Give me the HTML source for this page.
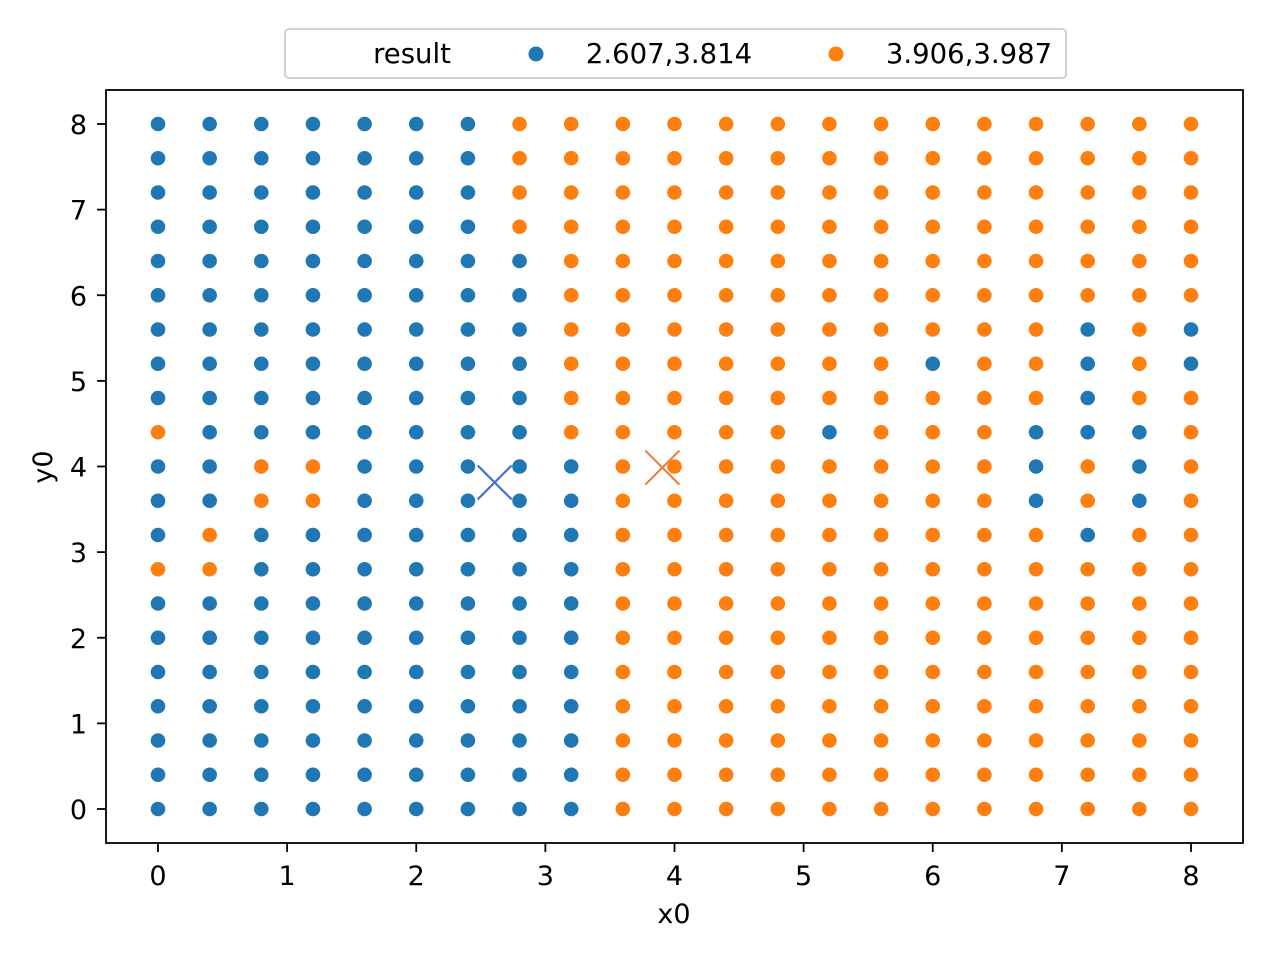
<!DOCTYPE html>
<html><head><meta charset="utf-8"><style>
body{margin:0;background:#fff}
svg text{font-family:"DejaVu Sans","Liberation Sans",sans-serif;fill:#000}
</style></head><body>
<svg id="chart" width="1280" height="960" xmlns="http://www.w3.org/2000/svg">
<rect x="0" y="0" width="1280" height="960" fill="#fff"/>
<g id="marks"></g>
<rect x="106" y="90" width="1137" height="753" fill="none" stroke="#000" stroke-width="1.8"/>
<g id="axes"></g>
<text x="674" y="923" font-size="27" text-anchor="middle">x0</text>
<text x="0" y="0" font-size="27" text-anchor="middle" transform="translate(52,467) rotate(-90)">y0</text>
<g>
<rect x="285" y="29" width="781" height="49" rx="4" fill="#fff" stroke="#ccc" stroke-width="1.8"/>
<text x="412" y="63" font-size="27.5" text-anchor="middle">result</text>
<circle cx="536" cy="54" r="7.5" fill="#1f77b4"/>
<text x="669" y="63" font-size="27.5" text-anchor="middle">2.607,3.814</text>
<circle cx="836" cy="54" r="7.5" fill="#ff7f0e"/>
<text x="969" y="63" font-size="27.5" text-anchor="middle">3.906,3.987</text>
</g>
</svg>
<script>
const xValues=[0,0.4,0.8,1.2,1.6,2,2.4,2.8,3.2,3.6,4,4.4,4.8,5.2,5.6,6,6.4,6.8,7.2,7.6,8];
const yValues=[8,7.6,7.2,6.8,6.4,6,5.6,5.2,4.8,4.4,4,3.6,3.2,2.8,2.4,2,1.6,1.2,0.8,0.4,0];
const clusterRows=[
"bbbbbbboooooooooooooo","bbbbbbboooooooooooooo","bbbbbbboooooooooooooo","bbbbbbboooooooooooooo",
"bbbbbbbbooooooooooooo","bbbbbbbbooooooooooooo",
"bbbbbbbboooooooooobob","bbbbbbbboooooooboobob","bbbbbbbbooooooooooboo",
"obbbbbbbooooobooobbbo","bboobbbbboooooooobobo","bboobbbbboooooooobobo",
"bobbbbbbbooooooooobooo".slice(0,21),"oobbbbbbboooooooooooo",
"bbbbbbbbboooooooooooo","bbbbbbbbboooooooooooo","bbbbbbbbboooooooooooo","bbbbbbbbboooooooooooo",
"bbbbbbbbboooooooooooo","bbbbbbbbboooooooooooo","bbbbbbbbboooooooooooo"];
const centroidX=[2.607,3.906];
const centroidY=[3.814,3.987];
const xTicks=[0,1,2,3,4,5,6,7,8];
const yTicks=[0,1,2,3,4,5,6,7,8];
const colors={b:"#1f77b4",o:"#ff7f0e"};
const crossColors=["#4a72d0","#ee8040"];
const sx=v=>158+v*(1191-158)/8;
const sy=v=>809-v*(809-124)/8;
const NS="http://www.w3.org/2000/svg";
const marks=document.getElementById('marks');
const axes=document.getElementById('axes');
function mk(tag,attrs,parent){const e=document.createElementNS(NS,tag);for(const k in attrs)e.setAttribute(k,attrs[k]);parent.appendChild(e);return e;}
yValues.forEach((y,j)=>{xValues.forEach((x,i)=>{
  const c=clusterRows[j][i];
  const el=mk('circle',{cx:sx(x),cy:sy(y),r:7.3,fill:colors[c]},marks);
  
  
});});
centroidX.forEach((cx,k)=>{
  const g=mk('g',{stroke:crossColors[k],'stroke-width':2.2},marks);
  
  
  const X=sx(cx),Y=sy(centroidY[k]),h=17;
  mk('line',{x1:X-h,y1:Y-h,x2:X+h,y2:Y+h},g);
  mk('line',{x1:X-h,y1:Y+h,x2:X+h,y2:Y-h},g);
});
xTicks.forEach(t=>{
  mk('line',{x1:sx(t),x2:sx(t),y1:843,y2:852,stroke:'#000','stroke-width':1.8},axes);
  const tx=mk('text',{x:sx(t),y:885,'font-size':27,'text-anchor':'middle'},axes);
  tx.textContent=t;
  
  
});
yTicks.forEach(t=>{
  mk('line',{x1:97,x2:106,y1:sy(t),y2:sy(t),stroke:'#000','stroke-width':1.8},axes);
  const tx=mk('text',{x:87,y:sy(t)+10,'font-size':27,'text-anchor':'end'},axes);
  tx.textContent=t;
  
  
});
</script>
</body></html>
